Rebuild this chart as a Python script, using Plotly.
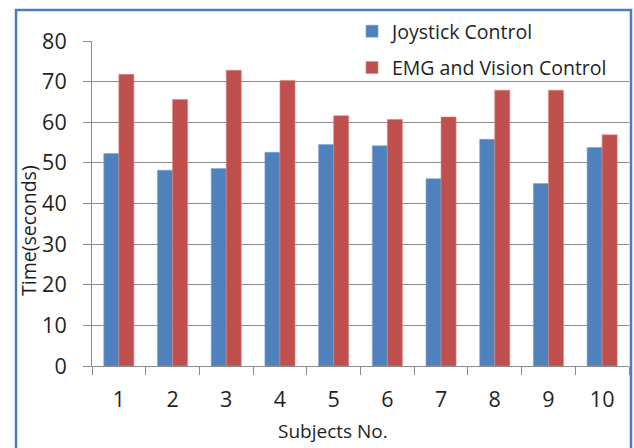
import plotly.graph_objects as go

subjects = ["1", "2", "3", "4", "5", "6", "7", "8", "9", "10"]
joystick = [52.3, 48.2, 48.6, 52.6, 54.5, 54.2, 46.1, 55.8, 44.9, 53.8]
emg_vision = [71.8, 65.6, 72.8, 70.3, 61.6, 60.7, 61.3, 67.9, 67.9, 56.9]
y_ticks = [0, 10, 20, 30, 40, 50, 60, 70, 80]

FONT = "Open Sans, sans-serif"
TXT = "#1f1f1f"

W, H = 634, 448
ML, MR, MT, MB = 92, 5, 41, 82
pw, ph = W - ML - MR, H - MT - MB


def px_x(x):
    return (x - ML) / pw


def px_y(y):
    return (H - MB - y) / ph


fig = go.Figure()
fig.add_trace(go.Bar(
    x=subjects, y=joystick, name="Joystick Control",
    marker=dict(color="#4F81BD", line=dict(color="#7FA3D3", width=0.6)),
    legendgroup="a",
))
fig.add_trace(go.Bar(
    x=subjects, y=emg_vision, name="EMG and Vision Control",
    marker=dict(color="#C0504D", line=dict(color="#D98583", width=0.6)),
    legendgroup="b",
))

fig.update_layout(
    width=W, height=H,
    margin=dict(l=ML, r=MR, t=MT, b=MB),
    paper_bgcolor="white", plot_bgcolor="white",
    barmode="group", bargap=0.44, bargroupgap=0,
    font=dict(family=FONT, color=TXT),
    showlegend=True,
    legend=dict(
        x=px_x(352), y=px_y(12), xanchor="left", yanchor="top",
        bgcolor="rgba(0,0,0,0)", font=dict(size=19.5, family=FONT, color=TXT),
        traceorder="grouped", tracegroupgap=8, itemwidth=30,
    ),
    xaxis=dict(
        type="category", tickson="boundaries",
        ticks="outside", ticklen=8, tickcolor="#8c8c8c",
        showline=True, linecolor="#8c8c8c", linewidth=1,
        showgrid=False, tickfont=dict(size=21.5, family=FONT, color=TXT),
        ticklabelstandoff=14,
    ),
    yaxis=dict(
        range=[0, 80], tickvals=y_ticks,
        ticks="outside", ticklen=8, tickcolor="#8c8c8c",
        showline=True, linecolor="#8c8c8c", linewidth=1,
        showgrid=True, gridcolor="#8c8c8c", gridwidth=1,
        zeroline=False, tickfont=dict(size=21.5, family=FONT, color=TXT),
        ticklabelstandoff=12,
    ),
    annotations=[
        dict(text="Time(seconds)", x=px_x(29), y=px_y(231), xref="paper", yref="paper",
             textangle=-90, showarrow=False, font=dict(size=19.5, family=FONT, color=TXT),
             xanchor="center", yanchor="middle"),
        dict(text="Subjects No.", x=px_x(333), y=px_y(431), xref="paper", yref="paper",
             showarrow=False, font=dict(size=19, family=FONT, color=TXT),
             xanchor="center", yanchor="middle"),
    ],
    shapes=[
        dict(type="rect", xref="paper", yref="paper",
             x0=px_x(16), x1=px_x(631), y0=px_y(460), y1=px_y(10),
             line=dict(color="#4A7EBB", width=2.5), fillcolor="rgba(0,0,0,0)", layer="above"),
    ],
)

fig.write_html("out.html")
